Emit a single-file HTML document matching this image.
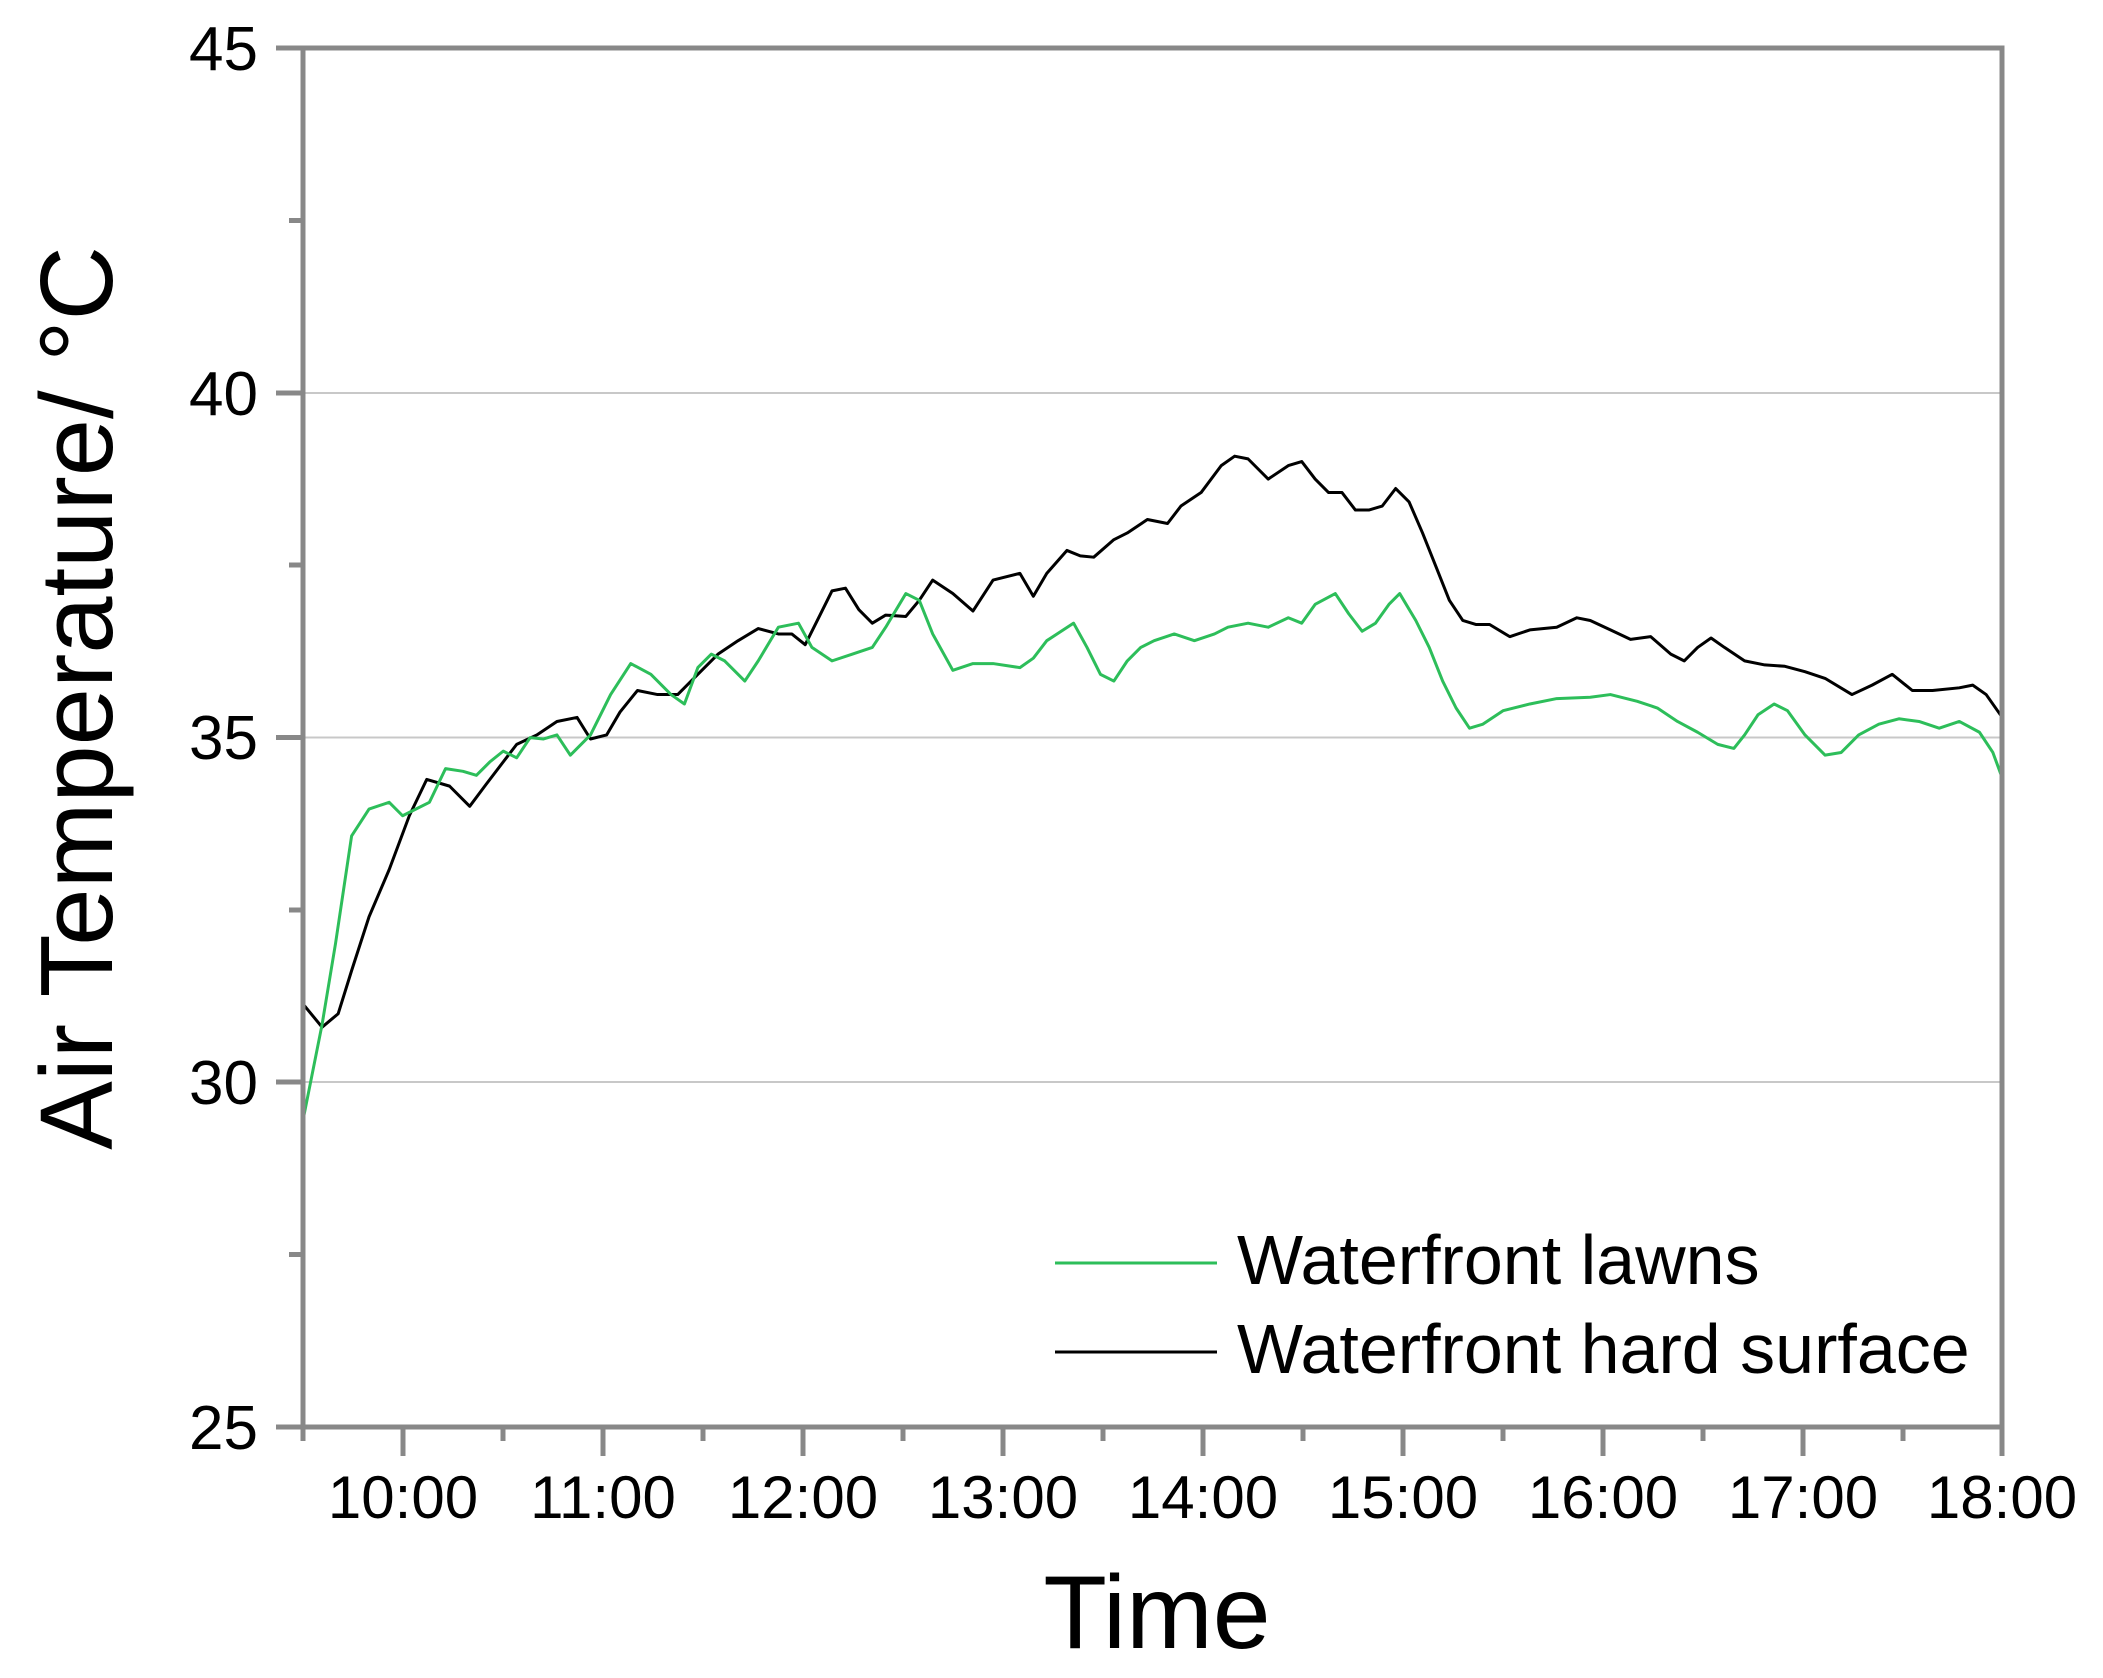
<!DOCTYPE html>
<html><head><meta charset="utf-8"><style>html,body{margin:0;padding:0;background:#fff}svg{display:block}</style></head>
<body>
<svg width="2103" height="1678" viewBox="0 0 2103 1678" xmlns="http://www.w3.org/2000/svg" font-family="Liberation Sans, Arial, sans-serif">
<rect width="2103" height="1678" fill="#fff"/>
<g stroke="#c8c8c8" stroke-width="2">
<line x1="303" y1="393" x2="2002" y2="393"/>
<line x1="303" y1="737.5" x2="2002" y2="737.5"/>
<line x1="303" y1="1082" x2="2002" y2="1082"/>
</g>
<g transform="translate(0,1) scale(1.342,1.3467)" fill="none" stroke-linejoin="round">
<polyline stroke="#000" stroke-width="3" vector-effect="non-scaling-stroke" points="226,745 240,762 252,752 262,720 275,680 290,645 305,605 318,578 335,583 350,598 362,582 375,565 385,552 400,545 415,535 430,532 440,548 452,545 462,528 475,512 490,515 505,515 520,500 535,485 550,475 565,466 580,470 590,470 600,478 610,458 620,438 630,436 640,452 650,462 660,456 675,457 685,445 695,430 710,440 725,453 740,430 760,425 770,442 780,425 795,408 805,412 815,413 830,400 840,395 855,385 870,388 880,375 895,365 910,345 920,338 930,340 945,355 960,345 970,342 980,355 990,365 1000,365 1010,378 1020,378 1030,375 1040,362 1050,372 1060,395 1070,420 1080,445 1090,460 1100,463 1110,463 1125,472 1140,467 1160,465 1175,458 1185,460 1200,467 1215,474 1230,472 1245,485 1255,490 1265,480 1275,473 1285,480 1300,490 1315,493 1330,494 1345,498 1360,503 1380,515 1395,508 1410,500 1425,512 1440,512 1460,510 1470,508 1480,515 1492,532"/>
<polyline stroke="#2dbe5a" stroke-width="3" vector-effect="non-scaling-stroke" points="226,830 240,760 250,700 262,620 275,600 290,595 300,605 310,600 320,595 332,570 345,572 355,575 365,565 375,557 385,562 395,547 405,548 415,545 425,560 440,545 455,515 470,492 485,500 500,515 510,522 520,495 530,485 540,490 555,505 565,490 580,465 595,462 605,480 620,490 635,485 650,480 660,465 675,440 685,445 695,470 710,497 725,492 740,492 760,495 770,488 780,475 800,462 810,480 820,500 830,505 840,490 850,480 860,475 875,470 890,475 905,470 915,465 930,462 945,465 960,458 970,462 980,448 995,440 1005,455 1015,468 1025,462 1035,448 1043,440 1055,460 1065,480 1075,505 1085,525 1095,540 1105,537 1120,527 1140,522 1160,518 1185,517 1200,515 1220,520 1235,525 1250,535 1265,543 1280,552 1292,555 1300,545 1310,530 1322,522 1332,527 1345,545 1360,560 1372,558 1385,545 1400,537 1415,533 1430,535 1445,540 1460,535 1475,543 1485,558 1492,577"/>
</g>
<g stroke="#888" stroke-width="5" fill="none">
<rect x="303" y="48" width="1699" height="1379"/>
<path d="M276 48H303M276 393H303M276 737.5H303M276 1082H303M276 1427H303M289 220.5H303M289 565H303M289 910H303M289 1254.5H303"/>
<path d="M303 1427V1441M403 1427V1456M503 1427V1441M603 1427V1456M703 1427V1441M803 1427V1456M903 1427V1441M1003 1427V1456M1103 1427V1441M1203 1427V1456M1303 1427V1441M1403 1427V1456M1503 1427V1441M1603 1427V1456M1703 1427V1441M1803 1427V1456M1903 1427V1441M2002 1427V1456"/>
</g>
<g font-size="62" fill="#000" text-anchor="end">
<text x="258" y="70">45</text><text x="258" y="415">40</text><text x="258" y="759">35</text><text x="258" y="1104">30</text><text x="258" y="1449">25</text>
</g>
<g font-size="60" fill="#000" text-anchor="middle">
<text x="403" y="1518">10:00</text><text x="603" y="1518">11:00</text><text x="803" y="1518">12:00</text><text x="1003" y="1518">13:00</text><text x="1203" y="1518">14:00</text><text x="1403" y="1518">15:00</text><text x="1603" y="1518">16:00</text><text x="1803" y="1518">17:00</text><text x="2002" y="1518">18:00</text>
</g>
<text x="1157" y="1648" font-size="104" text-anchor="middle">Time</text>
<text transform="translate(112,698) rotate(-90)" font-size="103" text-anchor="middle">Air Temperature/ °C</text>
<line x1="1055" y1="1263" x2="1217" y2="1263" stroke="#2dbe5a" stroke-width="3"/>
<line x1="1055" y1="1352" x2="1217" y2="1352" stroke="#000" stroke-width="3"/>
<text x="1237" y="1284" font-size="70">Waterfront lawns</text>
<text x="1237" y="1373" font-size="70">Waterfront hard surface</text>
</svg>
</body></html>
